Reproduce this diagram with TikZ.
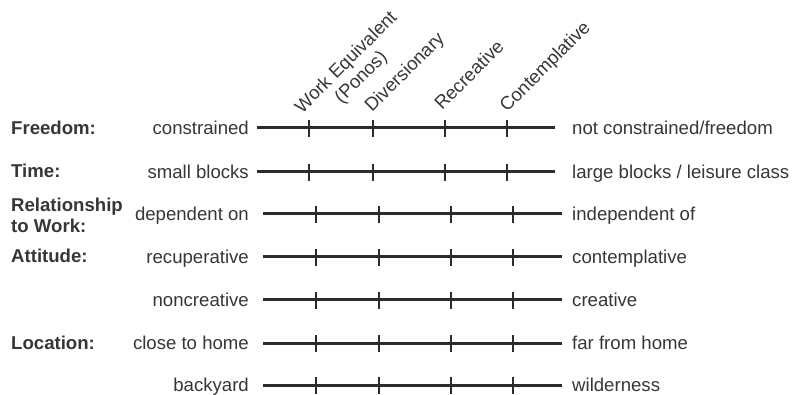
\documentclass[tikz,border=0pt]{standalone}
\usepackage{fontspec}
\setmainfont{Liberation Sans}
\usepackage{xcolor}
\usepackage{tikz}
\definecolor{ink}{HTML}{363636}
\definecolor{bar}{HTML}{2B2B2B}
\tikzset{
  txt/.style={font=\fontsize{18.6}{21}\selectfont, text=ink, inner sep=0pt},
  head/.style={txt, font=\fontsize{18.6}{21}\selectfont\bfseries, align=left, anchor=base west},
  lhs/.style={txt, anchor=base east},
  rhs/.style={txt, anchor=base west},
  kind/.style={txt, rotate=45, anchor=base west},
  scale line/.style={line width=3pt, draw=bar},
  tick/.style={line width=2.6pt, draw=bar}
}

\begin{document}
\begin{tikzpicture}[x=1pt,y=-1pt]
                \useasboundingbox (0,0) rectangle (795,395);
                \node [kind, align=center] (ponos) at (317,129) {Work Equivalent\\(Ponos)};
                \node [kind] (divers) at (372,113) {Diversionary};
                \node [kind] (recr) at (442,111) {Recreative};
                \node [kind] (contemp) at (507,113) {Contemplative};
                \node [head] (freedom) at (11,135) {Freedom:};
                \node [head] (time) at (11,178) {Time:};
                \node [head] (relation) at (11,233) {Relationship\\to Work:};
                \node [head] (attitude) at (11,263) {Attitude:};
                \node [head] (location) at (11,349) {Location:};
                \node [lhs] (a1) at (249,134.5) {constrained};
                \node [lhs] (a2) at (249,178.5) {small blocks};
                \node [lhs] (a3) at (249,220.5) {dependent on};
                \node [lhs] (a4) at (249,263.5) {recuperative};
                \node [lhs] (a5) at (249,306.5) {noncreative};
                \node [lhs] (a6) at (249,349.5) {close to home};
                \node [lhs] (a7) at (249,391.5) {backyard};
                \node [rhs] (b1) at (572,134.5) {not constrained/freedom};
                \node [rhs] (b2) at (572,178.5) {large blocks / leisure class};
                \node [rhs] (b3) at (572,220.5) {independent of};
                \node [rhs] (b4) at (572,263.5) {contemplative};
                \node [rhs] (b5) at (572,306.5) {creative};
                \node [rhs] (b6) at (572,349.5) {far from home};
                \node [rhs] (b7) at (572,391.5) {wilderness};
                \coordinate (l1) at (257,128); \coordinate (r1) at (555,128);
                \coordinate (l2) at (257,172); \coordinate (r2) at (555,172);
                \coordinate (l3) at (263,214); \coordinate (r3) at (562,214);
                \coordinate (l4) at (263,257); \coordinate (r4) at (562,257);
                \coordinate (l5) at (263,300); \coordinate (r5) at (562,300);
                \coordinate (l6) at (263,343); \coordinate (r6) at (562,343);
                \coordinate (l7) at (263,385); \coordinate (r7) at (562,385);
                \draw [scale line] (l1) -- (r1);
                \draw [scale line] (l2) -- (r2);
                \draw [scale line] (l3) -- (r3);
                \draw [scale line] (l4) -- (r4);
                \draw [scale line] (l5) -- (r5);
                \draw [scale line] (l6) -- (r6);
                \draw [scale line] (l7) -- (r7);
                \draw [tick] (309,120) -- (309,137) (373,120) -- (373,137) (445,120) -- (445,137) (507,120) -- (507,137);
                \draw [tick] (309,164) -- (309,181) (373,164) -- (373,181) (445,164) -- (445,181) (507,164) -- (507,181);
                \draw [tick] (316,206) -- (316,223) (379,206) -- (379,223) (451,206) -- (451,223) (513,206) -- (513,223);
                \draw [tick] (316,249) -- (316,266) (379,249) -- (379,266) (451,249) -- (451,266) (513,249) -- (513,266);
                \draw [tick] (316,292) -- (316,309) (379,292) -- (379,309) (451,292) -- (451,309) (513,292) -- (513,309);
                \draw [tick] (316,335) -- (316,352) (379,335) -- (379,352) (451,335) -- (451,352) (513,335) -- (513,352);
                \draw [tick] (316,377) -- (316,394) (379,377) -- (379,394) (451,377) -- (451,394) (513,377) -- (513,394);
            \end{tikzpicture}
\end{document}
